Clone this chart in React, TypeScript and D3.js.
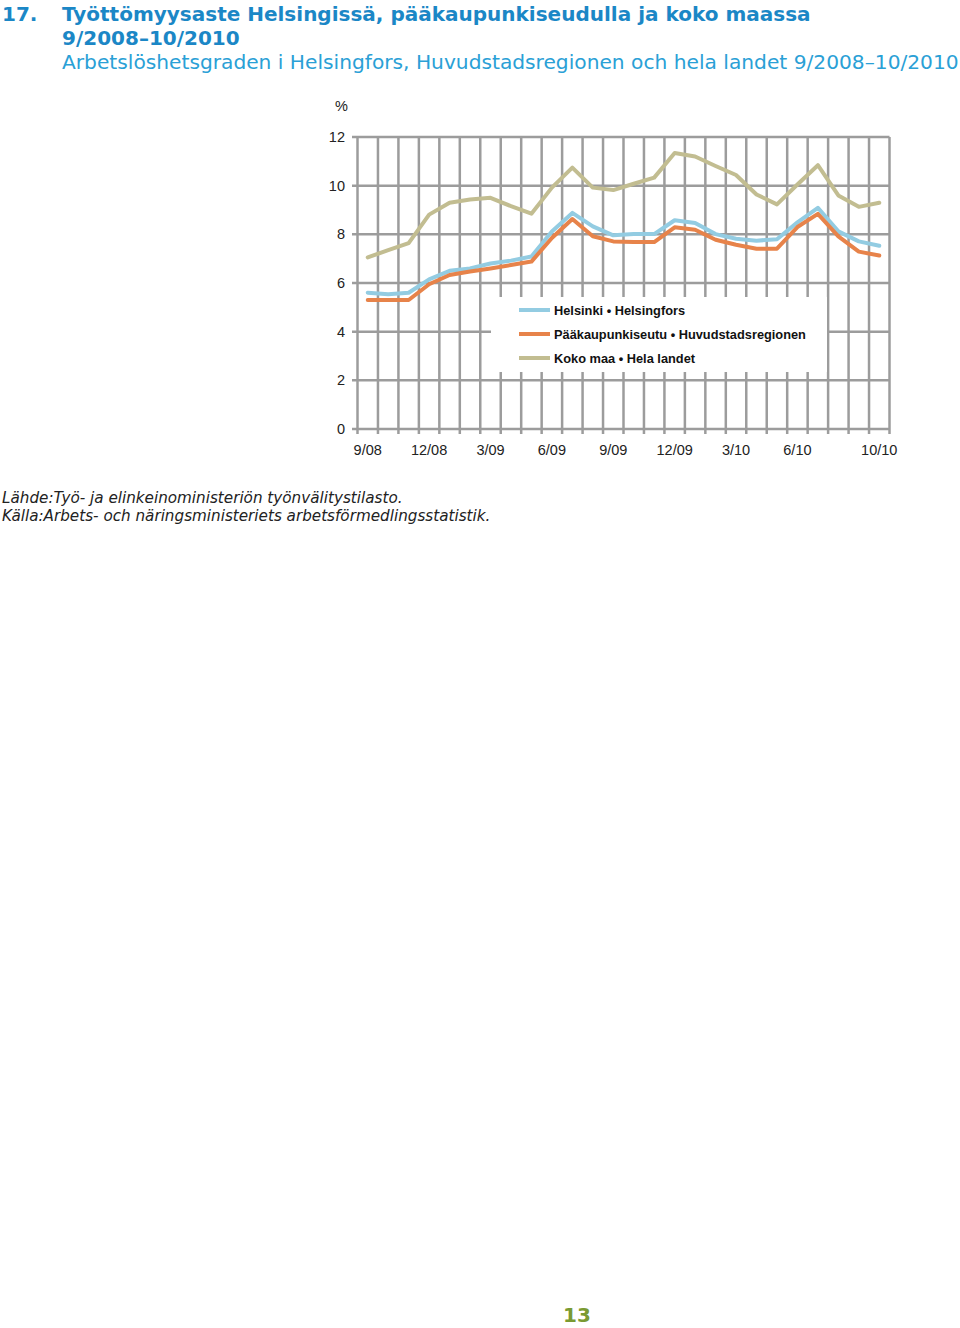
import React from "react";
import * as d3 from "d3";

const months = [
  "9/08","10/08","11/08","12/08","1/09","2/09","3/09","4/09","5/09","6/09","7/09","8/09","9/09",
  "10/09","11/09","12/09","1/10","2/10","3/10","4/10","5/10","6/10","7/10","8/10","9/10","10/10",
];
const shownLabels = ["9/08","12/08","3/09","6/09","9/09","12/09","3/10","6/10","10/10"];

const helsinki = [5.6,5.54,5.6,6.15,6.5,6.6,6.8,6.92,7.09,8.12,8.88,8.33,7.96,8.01,8.01,8.58,8.47,8.01,7.82,7.74,7.8,8.49,9.09,8.12,7.71,7.53];
const pks = [5.3,5.3,5.3,5.95,6.33,6.47,6.6,6.74,6.88,7.85,8.63,7.92,7.71,7.68,7.68,8.29,8.19,7.78,7.57,7.41,7.41,8.3,8.84,7.92,7.29,7.13];
const kokoMaa = [7.05,7.35,7.64,8.81,9.3,9.43,9.5,9.16,8.85,9.92,10.74,9.92,9.82,10.08,10.33,11.34,11.2,10.81,10.44,9.64,9.23,10.05,10.84,9.6,9.13,9.3];

const yTicks = [0,2,4,6,8,10,12];

const seriesNames = [
  "Helsinki • Helsingfors",
  "Pääkaupunkiseutu • Huvudstadsregionen",
  "Koko maa • Hela landet",
];
const seriesColors = ["#93cce2", "#e7834a", "#c2bd91"];

export default function App() {
  const left = 357.5, right = 889.5, top = 137, bottom = 429;
  const x = d3.scaleBand<string>().domain(months).range([left, right]).padding(0);
  const y = d3.scaleLinear().domain([0, 12]).range([bottom, top]);
  const bw = x.bandwidth();
  const cx = (m: string) => (x(m) as number) + bw / 2;
  const line = d3.line<number>().x((_, i) => cx(months[i])).y((v) => y(v));
  const boundaries = months.map((m) => x(m) as number).concat([right]);
  const gridColor = "#9c9c9c";
  const data = [helsinki, pks, kokoMaa];
  const legendBox = { x0: 491, x1: 827, y0: 297, y1: 372 };

  return (
    <div style={{ position: "absolute", left: 0, top: 0 }}>
      <svg width={960} height={1328} style={{ display: "block", background: "#fff" }}>
        {/* Title */}
        <g fontFamily="'DejaVu Sans', Verdana, sans-serif">
          <text x={2} y={21} fontSize={20} fontWeight="bold" fill="#1b87c6">17.</text>
          <text x={62} y={21} fontSize={20} fontWeight="bold" fill="#1b87c6">
            Työttömyysaste Helsingissä, pääkaupunkiseudulla ja koko maassa
          </text>
          <text x={62} y={45} fontSize={20} fontWeight="bold" fill="#1b87c6">9/2008–10/2010</text>
          <text x={62} y={69} fontSize={20.2} fill="#2aa0d6">
            Arbetslöshetsgraden i Helsingfors, Huvudstadsregionen och hela landet 9/2008–10/2010
          </text>
        </g>

        {/* Grid */}
        <g stroke={gridColor} strokeWidth={2.5}>
          {yTicks.map((t) => (
            <line key={"h" + t} x1={352} x2={right} y1={y(t)} y2={y(t)} />
          ))}
          {boundaries.map((bx, i) => (
            <line key={"v" + i} x1={bx} x2={bx} y1={top} y2={bottom + 5} />
          ))}
        </g>

        {/* Legend background */}
        <rect x={legendBox.x0} y={legendBox.y0} width={legendBox.x1 - legendBox.x0} height={legendBox.y1 - legendBox.y0} fill="#fff" />

        {/* Axis labels */}
        <g fontFamily="'Liberation Sans', Arial, sans-serif" fontSize={14.5} fill="#222">
          <text x={335} y={111}>%</text>
          {yTicks.map((t) => (
            <text key={"yl" + t} x={345} y={y(t) + 5} textAnchor="end">{t}</text>
          ))}
          {shownLabels.map((m) => (
            <text key={"xl" + m} x={cx(m)} y={455} textAnchor="middle">{m}</text>
          ))}
        </g>

        {/* Series */}
        {data.map((d, i) => (
          <path key={"s" + i} d={line(d) || ""} fill="none" stroke={seriesColors[i]} strokeWidth={4} strokeLinejoin="round" strokeLinecap="round" />
        ))}

        {/* Legend */}
        <g fontFamily="'Liberation Sans', Arial, sans-serif" fontSize={12.8} fontWeight="bold" fill="#111">
          {seriesNames.map((n, i) => (
            <g key={"lg" + i}>
              <line x1={519} x2={550} y1={310 + i * 24} y2={310 + i * 24} stroke={seriesColors[i]} strokeWidth={4} />
              <text x={554} y={314.5 + i * 24}>{n}</text>
            </g>
          ))}
        </g>

        {/* Source */}
        <g fontFamily="'DejaVu Sans', Verdana, sans-serif" fontSize={15.2} fontStyle="italic" fill="#222">
          <text x={2} y={503}>Lähde:Työ- ja elinkeinoministeriön työnvälitystilasto.</text>
          <text x={2} y={521}>Källa:Arbets- och näringsministeriets arbetsförmedlingsstatistik.</text>
        </g>

        {/* Page number */}
        <text x={577} y={1322} textAnchor="middle" fontFamily="'DejaVu Sans', Verdana, sans-serif" fontSize={20} fontWeight="bold" fill="#7a9a32">13</text>
      </svg>
    </div>
  );
}
